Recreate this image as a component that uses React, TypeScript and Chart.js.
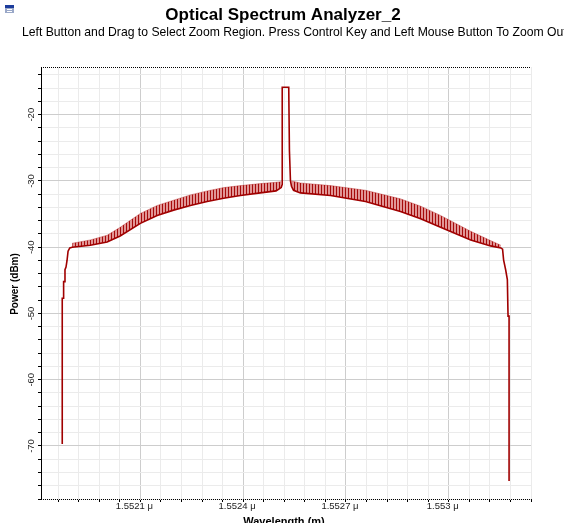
import React, { useEffect, useRef } from 'react';
import { Chart, registerables } from 'chart.js';

Chart.register(...registerables);

// ---- data (wavelength in micrometres, power in dBm) ----
const traceWavelength = [
  1.551872, 1.551872, 1.551875, 1.551876, 1.551879, 1.55188, 1.551883, 1.551886, 1.551889, 1.551894,
  1.551901, 1.551954, 1.552003, 1.552041, 1.5521, 1.552149, 1.552197, 1.552246, 1.552295, 1.552343,
  1.552392, 1.55245, 1.552496, 1.552511,
  1.552514, 1.552514, 1.552533, 1.552535, 1.552538, 1.552541, 1.552547,
  1.552567, 1.552655, 1.552757, 1.552859, 1.552918, 1.552976, 1.553064, 1.553122, 1.553152,
  1.553157, 1.55316, 1.553166, 1.553171, 1.553173, 1.553176, 1.553176,
];
const tracePower = [
  -69.7, -47.7, -47.7, -45.2, -45.2, -43.4, -43.0, -42.0, -40.6, -40.1,
  -40.0, -39.7, -39.2, -38.3, -36.4, -35.2, -34.4, -33.7, -33.1, -32.6,
  -32.2, -31.8, -31.5, -31.0,
  -30.5, -15.85, -15.85, -25.4, -30.0, -30.8, -31.4,
  -31.8, -32.2, -33.1, -34.6, -35.7, -37.0, -38.9, -39.8, -40.1,
  -40.3, -41.9, -43.4, -44.9, -50.4, -50.4, -75.3,
];
const bandLeftWavelength = [
  1.551901, 1.551954, 1.552003, 1.552041, 1.5521, 1.552149, 1.552197, 1.552246, 1.552295, 1.552343,
  1.552392, 1.55245, 1.552496, 1.552511,
];
const bandLeftUpper = [
  -39.4, -38.9, -38.2, -37.0, -34.9, -33.7, -32.9, -32.1, -31.5, -31.0,
  -30.7, -30.4, -30.2, -30.1,
];
const bandRightWavelength = [
  1.552541, 1.552567, 1.552655, 1.552757, 1.552859, 1.552918, 1.552976, 1.553064, 1.553122, 1.553152,
];
const bandRightUpper = [
  -30.0, -30.3, -30.7, -31.4, -32.7, -33.8, -35.2, -37.6, -39.0, -39.7,
];

const xMajorTicks = [1.5521, 1.5524, 1.5527, 1.553];
const xTickLabels = ['1.5521 μ', '1.5524 μ', '1.5527 μ', '1.553 μ'];
const yMajorTicks = [-20, -30, -40, -50, -60, -70];
const yTickLabels = ['-20', '-30', '-40', '-50', '-60', '-70'];

const xMin = 1.55181;
const xMax = 1.55324;
const xMinorStep = 0.00006;
const yMin = -78;
const yMax = -12.8;
const yMinorStep = 2;

const titleText = 'Optical Spectrum Analyzer_2';
const subtitleText =
  'Left Button and Drag to Select Zoom Region. Press Control Key and Left Mouse Button To Zoom Out';
const xTitle = 'Wavelength (m)';
const yTitle = 'Power (dBm)';

const FONT = '"Liberation Sans", Arial, sans-serif';
const TRACE = 'rgb(160,0,0)';

const near = (a: number, b: number) => Math.abs(a - b) < 1e-9;

function makePattern(): CanvasPattern | string {
  const c = document.createElement('canvas');
  c.width = 3;
  c.height = 1;
  const g = c.getContext('2d');
  if (!g) return 'rgba(200,80,80,0.6)';
  g.fillStyle = 'rgb(225,150,150)';
  g.fillRect(0, 0, 3, 1);
  g.fillStyle = 'rgb(165,10,10)';
  g.fillRect(0, 0, 1, 1);
  const p = g.createPattern(c, 'repeat');
  return p || 'rgba(200,80,80,0.6)';
}

const decorPlugin = {
  id: 'decor',
  afterDraw(chart: any) {
    const ctx = chart.ctx;
    const area = chart.chartArea;
    const ys = chart.scales.y;
    ctx.save();
    // dotted top border and dotted x axis line
    ctx.strokeStyle = '#000';
    ctx.lineWidth = 1;
    ctx.setLineDash([1, 1]);
    ctx.beginPath();
    ctx.moveTo(area.left, Math.round(area.top) + 0.5);
    ctx.lineTo(area.right, Math.round(area.top) + 0.5);
    ctx.moveTo(area.left, Math.round(area.bottom) + 0.5);
    ctx.lineTo(area.right, Math.round(area.bottom) + 0.5);
    ctx.stroke();
    ctx.setLineDash([]);

    // y tick labels (rotated)
    ctx.fillStyle = '#222';
    ctx.font = `9.5px ${FONT}`;
    ctx.textAlign = 'center';
    ctx.textBaseline = 'middle';
    yMajorTicks.forEach((v, i) => {
      const y = ys.getPixelForValue(v);
      ctx.save();
      ctx.translate(31, y);
      ctx.rotate(-Math.PI / 2);
      ctx.fillText(yTickLabels[i], 0, 0);
      ctx.restore();
    });

    // y axis title
    ctx.fillStyle = '#000';
    ctx.font = `bold 10px ${FONT}`;
    ctx.save();
    ctx.translate(15, 284);
    ctx.rotate(-Math.PI / 2);
    ctx.fillText(yTitle, 0, 0);
    ctx.restore();

    // x axis title (cut at bottom edge)
    ctx.font = `bold 11px ${FONT}`;
    ctx.textBaseline = 'top';
    ctx.fillText(xTitle, 284, 516);

    // title and subtitle
    ctx.font = `bold 17px ${FONT}`;
    ctx.textBaseline = 'middle';
    ctx.fillText(titleText, 283, 15);
    ctx.font = `12.2px ${FONT}`;
    ctx.textAlign = 'left';
    ctx.fillText(subtitleText, 22, 33);

    // small window icon
    ctx.fillStyle = '#9aa8c8';
    ctx.fillRect(5, 5, 9, 8);
    ctx.fillStyle = '#1c3c9c';
    ctx.fillRect(5, 5, 9, 3);
    ctx.fillStyle = '#ffffff';
    ctx.fillRect(7, 9, 5, 1);
    ctx.fillRect(7, 11, 5, 1);
    ctx.restore();
  },
};

export default function App() {
  const ref = useRef<HTMLCanvasElement | null>(null);

  useEffect(() => {
    if (!ref.current) return;
    const pattern = makePattern();
    const trace = traceWavelength.map((x, i) => ({ x, y: tracePower[i] }));
    const bandL = bandLeftWavelength.map((x, i) => ({ x, y: bandLeftUpper[i] }));
    const bandR = bandRightWavelength.map((x, i) => ({ x, y: bandRightUpper[i] }));

    const chart = new Chart(ref.current, {
      type: 'line',
      data: {
        datasets: [
          {
            data: trace,
            borderColor: TRACE,
            borderWidth: 1.6,
            pointRadius: 0,
            tension: 0,
            fill: false,
          },
          {
            data: bandL,
            borderColor: 'rgba(170,20,20,0.6)',
            borderWidth: 0.6,
            pointRadius: 0,
            tension: 0,
            fill: { target: 0 },
            backgroundColor: pattern as any,
          },
          {
            data: bandR,
            borderColor: 'rgba(170,20,20,0.6)',
            borderWidth: 0.6,
            pointRadius: 0,
            tension: 0,
            fill: { target: 0 },
            backgroundColor: pattern as any,
          },
        ],
      },
      options: {
        animation: false,
        responsive: false,
        devicePixelRatio: 1,
        parsing: false as any,
        layout: { padding: { top: 67, right: 33, left: 0, bottom: 0 } },
        plugins: {
          legend: { display: false },
          title: { display: false },
          tooltip: { enabled: false },
          filler: { propagate: false },
        },
        scales: {
          x: {
            type: 'linear',
            min: xMin,
            max: xMax,
            afterFit: (s: any) => {
              s.height = 24;
            },
            afterBuildTicks: (s: any) => {
              const t: { value: number }[] = [];
              for (let k = -10; k <= 30; k++) {
                const v = xMajorTicks[0] + k * xMinorStep;
                if (v >= xMin - 1e-9 && v <= xMax + 1e-9) t.push({ value: v });
              }
              s.ticks = t;
            },
            grid: {
              color: (c: any) => {
                const v = c.tick ? c.tick.value : NaN;
                return xMajorTicks.some((m) => near(m, v)) ? '#cdcdcd' : '#ebebeb';
              },
              tickColor: '#000',
              tickLength: 3,
              lineWidth: 1,
            },
            border: { display: false },
            ticks: {
              autoSkip: false,
              maxRotation: 0,
              minRotation: 0,
              padding: -1,
              labelOffset: -6,
              color: '#222',
              font: { family: FONT, size: 9.5 },
              callback: (v: any) => {
                const i = xMajorTicks.findIndex((m) => near(m, Number(v)));
                return i >= 0 ? xTickLabels[i] : '';
              },
            },
          },
          y: {
            type: 'linear',
            min: yMin,
            max: yMax,
            afterFit: (s: any) => {
              s.width = 41;
            },
            afterBuildTicks: (s: any) => {
              const t: { value: number }[] = [];
              for (let v = yMin; v <= yMax - 1; v += yMinorStep) t.push({ value: v });
              s.ticks = t;
            },
            grid: {
              color: (c: any) => {
                const v = c.tick ? c.tick.value : NaN;
                return yMajorTicks.some((m) => near(m, v)) ? '#cdcdcd' : '#ebebeb';
              },
              tickColor: '#000',
              tickLength: 3,
              lineWidth: 1,
            },
            border: { display: true, color: '#000', width: 1 },
            ticks: {
              autoSkip: false,
              callback: () => '',
            },
          },
        },
      },
      plugins: [decorPlugin],
    });
    return () => chart.destroy();
  }, []);

  return (
    <div
      style={{
        position: 'fixed',
        left: 0,
        top: 0,
        width: 564,
        height: 523,
        background: '#fff',
        overflow: 'hidden',
      }}
    >
      <canvas ref={ref} width={564} height={523} style={{ width: 564, height: 523, display: 'block' }} />
    </div>
  );
}
